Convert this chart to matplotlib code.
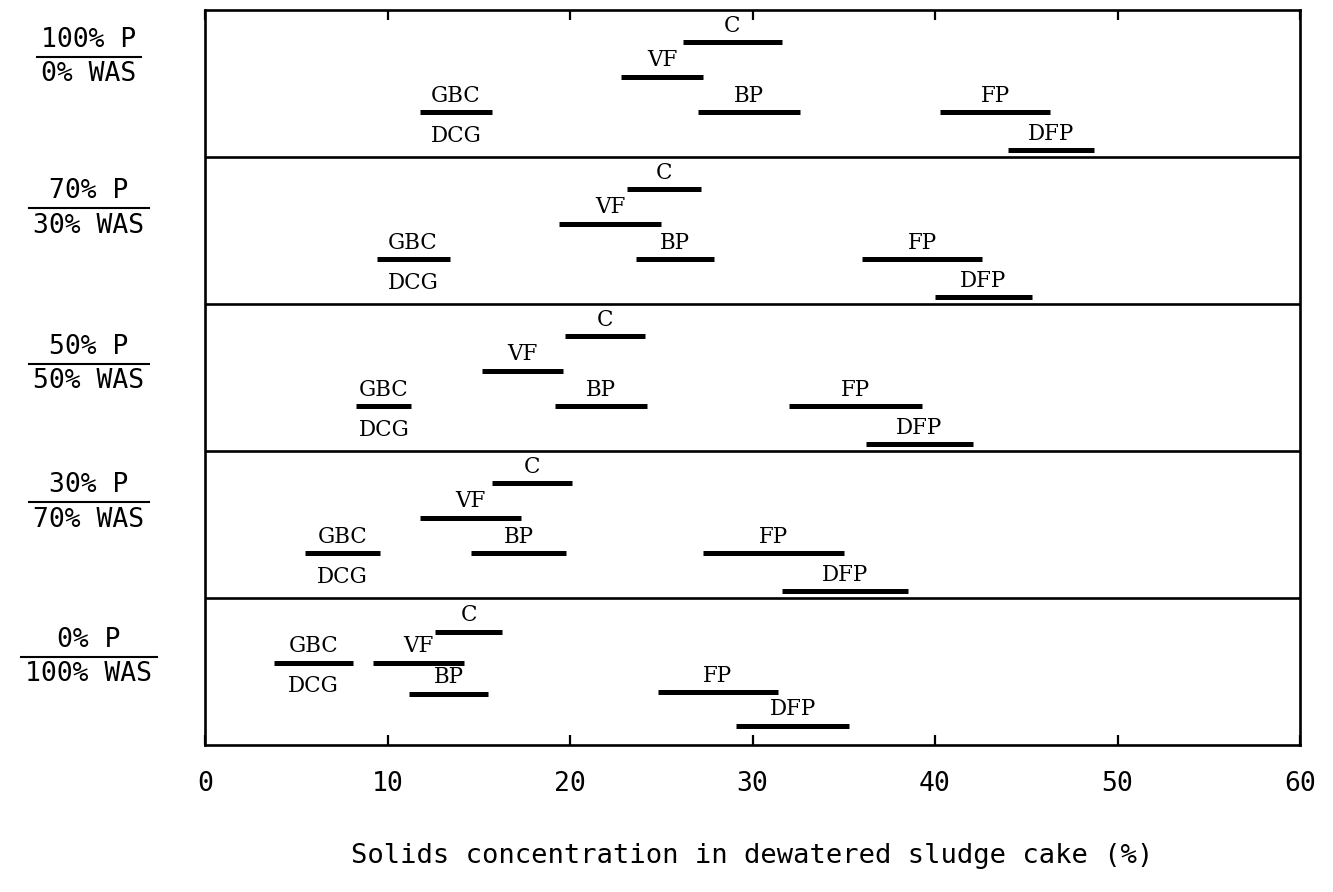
import matplotlib
matplotlib.use("Agg")
import matplotlib.pyplot as plt
import matplotlib.transforms as mtransforms

# Feed mixtures (primary sludge / waste activated sludge), top to bottom
mix_primary = ["100% P", "70% P", "50% P", "30% P", "0% P"]
mix_was = ["0% WAS", "30% WAS", "50% WAS", "70% WAS", "100% WAS"]

# Dewatering methods and their cake-solids ranges (%), one value per mixture
methods = ["C", "VF", "BP", "GBC", "FP", "DFP"]
c_low = [26.2, 23.1, 19.7, 15.7, 12.6]
c_high = [31.6, 27.2, 24.1, 20.1, 16.3]
vf_low = [22.8, 19.4, 15.2, 11.8, 9.2]
vf_high = [27.3, 25.0, 19.6, 17.3, 14.2]
bp_low = [27.0, 23.6, 19.2, 14.6, 11.2]
bp_high = [32.6, 27.9, 24.2, 19.8, 15.5]
gbc_low = [11.8, 9.4, 8.3, 5.5, 3.8]
gbc_high = [15.7, 13.4, 11.3, 9.6, 8.1]
fp_low = [40.3, 36.0, 32.0, 27.3, 24.8]
fp_high = [46.3, 42.6, 39.3, 35.0, 31.4]
dfp_low = [44.0, 40.0, 36.2, 31.6, 29.1]
dfp_high = [48.7, 45.3, 42.1, 38.5, 35.3]

lows = {"C": c_low, "VF": vf_low, "BP": bp_low, "GBC": gbc_low, "FP": fp_low, "DFP": dfp_low}
highs = {"C": c_high, "VF": vf_high, "BP": bp_high, "GBC": gbc_high, "FP": fp_high, "DFP": dfp_high}

x_ticks = [0, 10, 20, 30, 40, 50, 60]

# Vertical placement of each method's bar inside a panel (fraction from panel top)
rows_default = {"C": 0.22, "VF": 0.455, "BP": 0.695, "GBC": 0.695, "FP": 0.695, "DFP": 0.955}
rows_last = {"C": 0.23, "VF": 0.44, "BP": 0.65, "GBC": 0.44, "FP": 0.64, "DFP": 0.87}
mix_label_rows = [0.32, 0.35, 0.41, 0.35, 0.40]

mono = "DejaVu Sans Mono"
serif = "DejaVu Serif"

fig = plt.figure(figsize=(13.33, 8.92), dpi=100)
ax = fig.add_axes([205 / 1333, (892 - 745) / 892, 1095 / 1333, 735 / 892])

n = len(mix_primary)
ax.set_xlim(0, 60)
ax.set_ylim(n, 0)

for s in ax.spines.values():
    s.set_linewidth(1.9)
    s.set_color("black")

# Panel separators
for k in range(1, n):
    ax.axhline(k, color="black", lw=1.9)

ax.set_xticks(x_ticks)
ax.set_xticklabels([str(t) for t in x_ticks], fontfamily=mono, fontsize=19)
ax.tick_params(axis="x", which="both", direction="in", length=7, width=1.6,
               top=True, bottom=True, pad=19)
ax.set_yticks([])
ax.set_xlabel("Solids concentration in dewatered sludge cake (%)",
              fontfamily=mono, fontsize=19.5, labelpad=33)

bar_lw = 3.6
label_kw = dict(fontfamily=serif, fontsize=15.5, color="black", ha="center")

for i in range(n):
    rows = rows_last if i == n - 1 else rows_default
    for m in methods:
        lo, hi = lows[m][i], highs[m][i]
        y = i + rows[m]
        ax.plot([lo, hi], [y, y], color="black", lw=bar_lw, solid_capstyle="butt")
        xm = 0.5 * (lo + hi)
        if m == "GBC":
            ax.annotate("GBC", xy=(xm, y), xytext=(0, 4), textcoords="offset points",
                        va="bottom", **label_kw)
            ax.annotate("DCG", xy=(xm, y), xytext=(0, -9), textcoords="offset points",
                        va="top", **label_kw)
        else:
            ax.annotate(m, xy=(xm, y), xytext=(0, 4), textcoords="offset points",
                        va="bottom", **label_kw)

# Mixture labels drawn as fractions to the left of each panel
blend = mtransforms.blended_transform_factory(fig.transFigure, ax.transData)
cx = 89 / 1333
pairs = []
for i in range(n):
    yl = i + mix_label_rows[i]
    t1 = ax.annotate(mix_primary[i], xy=(cx, yl), xycoords=blend, xytext=(0, 3),
                     textcoords="offset points", ha="center", va="bottom",
                     fontfamily=mono, fontsize=19, annotation_clip=False)
    t2 = ax.annotate(mix_was[i], xy=(cx, yl), xycoords=blend, xytext=(0, -3),
                     textcoords="offset points", ha="center", va="top",
                     fontfamily=mono, fontsize=19, annotation_clip=False)
    pairs.append((yl, t1, t2))

fig.canvas.draw()
renderer = fig.canvas.get_renderer()
inv = fig.transFigure.inverted()
for yl, t1, t2 in pairs:
    b1 = t1.get_window_extent(renderer)
    b2 = t2.get_window_extent(renderer)
    x0 = min(b1.x0, b2.x0) - 4
    x1 = max(b1.x1, b2.x1) + 4
    fx0 = inv.transform((x0, 0))[0]
    fx1 = inv.transform((x1, 0))[0]
    ax.plot([fx0, fx1], [yl, yl], transform=blend, color="black", lw=1.5,
            clip_on=False)

fig.savefig("out.png", dpi=100, facecolor="white")
